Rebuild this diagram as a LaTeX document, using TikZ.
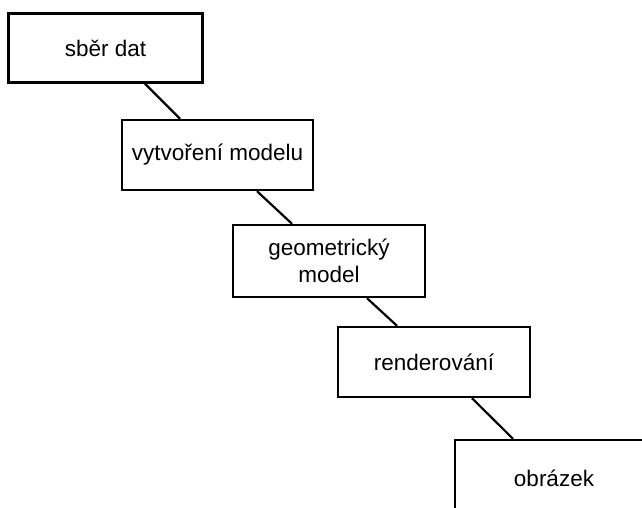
\documentclass[tikz,border=0pt]{standalone}
\usepackage{fontspec}
\setmainfont{Liberation Sans}
\begin{document}
\begin{tikzpicture}[x=1pt,y=-1pt,
  box/.style={draw=black, line width=2.4pt, inner sep=0pt, align=center,
    font=\fontsize{22.5}{27}\selectfont},
  conn/.style={line width=2.2pt}]
\useasboundingbox (0,0) rectangle (642,507);
\clip (0,0) rectangle (642,507);
\node[box, minimum width=194pt, minimum height=69pt] (b1) at (105.5,48) {\raisebox{-4pt}{sběr dat}};
\node[box, minimum width=191pt, minimum height=70pt] (b2) at (217.5,155) {vytvoření modelu};
\node[box, minimum width=192pt, minimum height=72pt] (b3) at (329,261) {geometrický\\model};
\node[box, minimum width=192pt, minimum height=70pt] (b4) at (434,362) {renderování};
\node[box, minimum width=198pt, minimum height=76pt] (b5) at (554,478) {obrázek};
\draw[conn] ([xshift=39.5pt]b1.south) -- ([xshift=-37.5pt]b2.north);
\draw[conn] ([xshift=39.5pt]b2.south) -- ([xshift=-37pt]b3.north);
\draw[conn] ([xshift=38pt]b3.south) -- ([xshift=-37pt]b4.north);
\draw[conn] ([xshift=38pt]b4.south) -- ([xshift=-41pt]b5.north);
\end{tikzpicture}
\end{document}
